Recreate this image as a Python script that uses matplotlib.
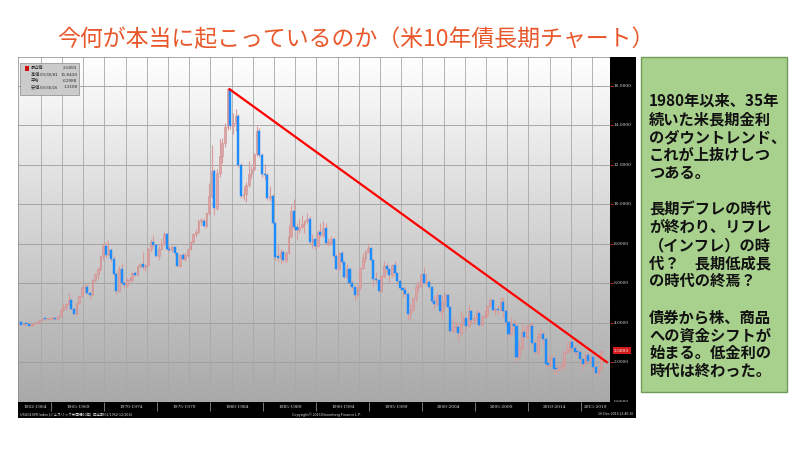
"""
US 10y yield quarterly candles (Bloomberg style) with trend line and comment box.
"""

import matplotlib
matplotlib.use("Agg")
import matplotlib.pyplot as plt
from matplotlib.patches import Rectangle
import numpy as np

plt.rcParams["font.family"] = ["Noto Sans CJK JP", "DejaVu Sans"]

# quarterly candles, 1962Q1 .. 2016Q4
first_year = 1962
first_open = 4.05
closes = [
    3.87, 3.95, 3.93, 3.85,   # 1962
    3.94, 4.00, 4.06, 4.14,
    4.21, 4.17, 4.19, 4.21,
    4.21, 4.20, 4.33, 4.65,
    4.82, 4.95, 5.16, 4.70,
    4.45, 5.00, 5.35, 5.75,
    5.80, 5.50, 5.38, 6.15,
    6.45, 6.70, 7.40, 7.88,
    7.45, 7.70, 7.25, 6.48,   # 1970
    5.60, 6.70, 6.00, 5.90,
    6.15, 6.15, 6.50, 6.40,
    6.85, 6.95, 6.80, 6.90,
    7.75, 8.10, 7.95, 7.40,
    7.75, 8.00, 8.50, 7.75,
    7.70, 7.85, 7.55, 6.85,
    7.45, 7.25, 7.45, 7.75,
    8.10, 8.50, 8.60, 9.15,
    9.15, 8.90, 9.55, 10.40,
    11.70, 9.80, 11.60, 12.45,  # 1980
    13.10, 13.90, 15.84, 13.95,
    14.10, 14.50, 12.00, 10.40,
    10.50, 11.00, 11.55, 11.80,
    12.55, 13.70, 12.50, 11.55,
    11.50, 10.30, 10.40, 9.05,
    7.35, 7.30, 7.60, 7.20,
    7.55, 8.40, 9.65, 8.85,
    8.70, 8.85, 9.00, 9.15,
    9.25, 8.10, 8.25, 7.90,
    8.60, 8.45, 8.80, 8.05,   # 1990
    8.05, 8.25, 7.40, 6.70,
    7.55, 7.10, 6.30, 6.70,
    6.00, 5.80, 5.40, 5.80,
    6.75, 7.30, 7.60, 7.80,
    7.20, 6.20, 6.15, 5.60,
    6.35, 6.85, 6.70, 6.40,
    6.90, 6.50, 6.10, 5.75,
    5.65, 5.45, 4.45, 4.65,
    5.25, 5.80, 5.90, 6.45,
    6.00, 6.05, 5.80, 5.10,   # 2000
    4.95, 5.40, 4.60, 5.05,
    5.40, 4.80, 3.60, 3.80,
    3.80, 3.50, 3.95, 4.25,
    3.85, 4.60, 4.15, 4.22,
    4.50, 3.90, 4.30, 4.40,
    4.85, 5.15, 4.65, 4.70,
    4.65, 5.05, 4.60, 4.05,
    3.45, 3.95, 3.85, 2.25,
    2.70, 3.55, 3.30, 3.85,
    3.85, 2.95, 2.50, 3.30,   # 2010
    3.45, 3.15, 1.92, 1.88,
    2.21, 1.65, 1.63, 1.76,
    1.85, 2.49, 2.61, 3.03,
    2.72, 2.53, 2.49, 2.17,
    1.92, 2.35, 2.04, 2.27,
    1.77, 1.47, 1.59, 2.59,
]
highs = [
    4.10, 3.98, 4.02, 3.97,
    3.96, 4.02, 4.09, 4.17,
    4.25, 4.26, 4.22, 4.24,
    4.24, 4.24, 4.35, 4.68,
    4.98, 4.98, 5.53, 5.25,
    4.78, 5.05, 5.42, 5.85,
    5.95, 5.98, 5.55, 6.20,
    6.50, 6.80, 7.45, 8.05,
    8.10, 8.20, 7.80, 7.40,
    6.55, 6.85, 7.05, 6.10,
    6.25, 6.30, 6.55, 6.60,
    6.90, 7.00, 7.60, 6.95,
    7.80, 8.25, 8.45, 8.00,
    7.95, 8.25, 8.60, 8.55,
    7.90, 7.95, 7.90, 7.60,
    7.50, 7.55, 7.55, 7.80,
    8.15, 8.55, 8.75, 9.25,
    9.30, 9.30, 9.60, 11.10,
    13.00, 11.80, 11.80, 13.30,
    13.35, 14.10, 15.84, 15.84,
    14.65, 14.85, 14.60, 12.10,
    10.95, 11.15, 12.20, 11.95,
    12.60, 13.95, 13.85, 12.60,
    12.05, 11.60, 10.95, 10.50,
    9.10, 7.95, 7.75, 7.70,
    7.65, 8.95, 9.95, 10.25,
    9.05, 9.25, 9.45, 9.20,
    9.55, 9.40, 8.50, 8.30,
    8.70, 9.05, 9.15, 9.05,
    8.30, 8.40, 8.35, 7.50,
    7.60, 7.65, 7.15, 6.95,
    6.75, 6.15, 5.85, 5.95,
    6.80, 7.55, 7.70, 8.05,
    7.85, 7.25, 6.55, 6.20,
    6.40, 7.15, 7.05, 6.75,
    6.95, 7.15, 6.55, 6.15,
    5.80, 5.80, 5.55, 5.00,
    5.30, 6.00, 6.10, 6.45,
    6.80, 6.50, 6.15, 5.85,
    5.35, 5.55, 5.45, 5.40,
    5.50, 5.45, 4.85, 4.25,
    4.10, 3.95, 4.60, 4.45,
    4.30, 4.90, 4.70, 4.40,
    4.65, 4.60, 4.40, 4.65,
    4.90, 5.25, 5.20, 4.80,
    4.90, 5.30, 5.30, 4.70,
    4.10, 4.30, 4.20, 4.10,
    3.05, 4.00, 3.90, 3.90,
    3.95, 4.00, 3.10, 3.55,
    3.75, 3.60, 3.20, 2.40,
    2.40, 2.30, 1.90, 1.85,
    2.08, 2.65, 3.00, 3.05,
    3.05, 2.80, 2.65, 2.60,
    2.25, 2.50, 2.50, 2.35,
    2.30, 1.95, 1.73, 2.64,
]
lows = [
    3.85, 3.82, 3.90, 3.80,
    3.82, 3.90, 3.98, 4.04,
    4.12, 4.15, 4.15, 4.16,
    4.18, 4.17, 4.18, 4.30,
    4.60, 4.65, 4.90, 4.62,
    4.40, 4.40, 4.95, 5.30,
    5.50, 5.45, 5.20, 5.35,
    6.05, 6.20, 6.60, 7.20,
    7.30, 7.40, 7.10, 6.40,
    5.45, 5.55, 5.95, 5.75,
    5.80, 6.05, 6.10, 6.35,
    6.38, 6.75, 6.70, 6.60,
    6.85, 7.60, 7.90, 7.35,
    7.20, 7.70, 7.95, 7.70,
    7.60, 7.60, 7.45, 6.80,
    6.80, 7.20, 7.15, 7.35,
    7.70, 8.05, 8.35, 8.55,
    8.95, 8.85, 8.80, 9.45,
    10.30, 9.45, 9.70, 11.40,
    12.10, 12.90, 13.75, 13.80,
    13.55, 13.70, 11.90, 10.30,
    10.20, 10.10, 10.90, 11.35,
    11.70, 12.45, 12.40, 11.40,
    11.25, 10.20, 10.15, 9.00,
    7.20, 7.10, 6.95, 7.10,
    7.05, 7.50, 8.30, 8.70,
    8.20, 8.55, 8.80, 8.55,
    9.05, 8.00, 7.80, 7.75,
    7.85, 8.35, 8.35, 7.95,
    7.90, 7.95, 7.35, 6.65,
    6.65, 7.00, 6.25, 6.25,
    5.85, 5.70, 5.15, 5.30,
    5.65, 6.70, 7.10, 7.55,
    7.15, 5.85, 6.05, 5.55,
    5.55, 6.25, 6.50, 6.05,
    6.30, 6.45, 6.00, 5.70,
    5.30, 5.40, 4.15, 4.15,
    4.60, 5.05, 5.60, 5.75,
    5.95, 5.90, 5.70, 5.05,
    4.70, 4.85, 4.50, 4.15,
    4.80, 4.75, 3.55, 3.55,
    3.55, 3.10, 3.35, 3.90,
    3.65, 3.80, 3.95, 3.95,
    4.00, 3.85, 3.85, 4.25,
    4.30, 4.80, 4.55, 4.40,
    4.45, 4.60, 4.30, 3.90,
    3.30, 3.40, 3.40, 2.05,
    2.15, 2.60, 3.20, 3.15,
    3.55, 2.90, 2.40, 2.35,
    3.20, 2.85, 1.70, 1.70,
    1.80, 1.45, 1.38, 1.55,
    1.70, 1.60, 2.45, 2.45,
    2.55, 2.40, 2.30, 1.86,
    1.64, 1.85, 1.90, 1.98,
    1.53, 1.40, 1.32, 1.59,
]

# downtrend line drawn on the chart
trend_x = [1981.8, 2017.4]
trend_y = [15.84, 2.0]

y_ticks = [0, 2, 4, 6, 8, 10, 12, 14, 16]
period_starts = [1962, 1965, 1970, 1975, 1980, 1985, 1990, 1995, 2000, 2005, 2010, 2015]
period_labels = ["1962-1964", "1965-1969", "1970-1974", "1975-1979", "1980-1984",
                 "1985-1989", "1990-1994", "1995-1999", "2000-2004", "2005-2009",
                 "2010-2014", "2015-2019"]
last_price = 2.5893
legend_rows = [("最近値", "2.5893"), ("高値 09/30/81", "15.8420"),
               ("平均", "6.2988"), ("安値 09/30/16", "1.3180")]

title = "今何が本当に起こっているのか（米10年債長期チャート）"
comment_paragraphs = [
    ["1980年以来、35年", "続いた米長期金利", "のダウントレンド、", "これが上抜けしつ", "つある。"],
    ["長期デフレの時代", "が終わり、リフレ", "（インフレ）の時", "代？　長期低成長", "の時代の終焉？"],
    ["債券から株、商品", "への資金シフトが", "始まる。低金利の", "時代は終わった。"],
]

W, H = 800, 450
X0 = 1961.85          # left edge of plot in years
PX_PER_YEAR = 10.6
UP_COLOR = "#dca4a4"
DOWN_COLOR = "#1c8cff"


def px_box(x0, y0, x1, y1):
    return [x0 / W, 1 - y1 / H, (x1 - x0) / W, (y1 - y0) / H]


def draw_candles(ax):
    n = len(closes)
    t = first_year + np.arange(n) * 0.25 + 0.125
    opens = np.array([first_open] + closes[:-1])
    c = np.array(closes)
    up = c >= opens
    ax.vlines(t, lows, highs, color="#d99a9a", linewidth=0.8, zorder=3)
    bottom = np.minimum(opens, c)
    height = np.maximum(np.abs(c - opens), 0.06)
    ax.bar(t[up], height[up], bottom=bottom[up], width=0.16,
           color=UP_COLOR, edgecolor="#d08e8e", linewidth=0.4, zorder=4)
    ax.bar(t[~up], height[~up], bottom=bottom[~up], width=0.2,
           color=DOWN_COLOR, edgecolor=DOWN_COLOR, linewidth=0.3, zorder=4)


def main():
    fig = plt.figure(figsize=(8, 4.5), dpi=100)
    fig.patch.set_facecolor("white")

    # main price area
    ax = fig.add_axes(px_box(18, 57, 610, 402))
    x1 = X0 + (610 - 18) / PX_PER_YEAR
    ylim = (-0.02, 345 / 19.75)
    ax.set_xlim(X0, x1)
    ax.set_ylim(*ylim)
    grad = np.linspace(0, 1, 256).reshape(-1, 1)
    ax.imshow(grad, extent=[X0, x1, ylim[0], ylim[1]], aspect="auto",
              cmap=matplotlib.colors.LinearSegmentedColormap.from_list("bg", ["#ffffff", "#a9a9a9"]),
              origin="upper", zorder=0)
    for v in y_ticks[1:]:
        ax.axhline(v, color="#9c9c9c", linewidth=0.6, zorder=1)
    for yr in range(1964, 2018, 2):
        ax.axvline(yr, color="#a8a8a8", linewidth=0.6, zorder=1)
    draw_candles(ax)
    ax.plot(trend_x, trend_y, color="#ff0000", linewidth=1.6, zorder=5)
    ax.set_xticks([])
    ax.set_yticks([])
    for s in ax.spines.values():
        s.set_color("#888888")
        s.set_linewidth(0.5)

    # right value panel
    ax_r = fig.add_axes(px_box(610, 57, 636, 402), facecolor="black")
    ax_r.set_ylim(*ylim)
    ax_r.set_xlim(0, 1)
    ax_r.set_xticks([])
    ax_r.set_yticks(y_ticks)
    ax_r.tick_params(axis="y", direction="in", left=True, labelleft=False,
                     color="#e03030", length=2, width=0.6)
    for s in ax_r.spines.values():
        s.set_visible(False)
    for v in y_ticks:
        ax_r.text(0.14, v, f"{v:.4f}", color="#d8d8d8", fontsize=3.2,
                  va="center", ha="left", family="DejaVu Serif")
    ax_r.text(0.45, last_price, f"{last_price:.4f}", color="white", fontsize=3.2,
              va="center", ha="center", family="DejaVu Serif",
              bbox=dict(facecolor="#d21a1a", edgecolor="none", pad=0.9))

    # bottom period strip
    ax_b = fig.add_axes(px_box(18, 402, 636, 418), facecolor="black")
    xb1 = X0 + (636 - 18) / PX_PER_YEAR
    ax_b.set_xlim(X0, xb1)
    ax_b.set_ylim(0, 1)
    ax_b.set_xticks([])
    ax_b.set_yticks([])
    for s in ax_b.spines.values():
        s.set_visible(False)
    for start, lab in zip(period_starts, period_labels):
        end = min(start + 5 if start != 1962 else 1965, x1)
        ax_b.text((start + end) / 2, 0.7, lab, color="#e0e0e0", fontsize=3.2,
                  ha="center", va="center", family="DejaVu Serif")
        if start > 1962:
            ax_b.vlines(start, 0.45, 1.0, color="#cfcfcf", linewidth=0.4)
    ax_b.text(0.004, 0.22, "USGG10YR Index (ジェネリック米国債10年)  四半期 01/1962-12/2016",
              transform=ax_b.transAxes, color="#e0e0e0", fontsize=2.6, va="center", ha="left")
    ax_b.text(0.5, 0.22, "Copyright© 2016 Bloomberg Finance L.P.", transform=ax_b.transAxes,
              color="#e0e0e0", fontsize=2.6, va="center", ha="center")
    ax_b.text(0.995, 0.22, "16-Dec-2016 12:40:16", transform=ax_b.transAxes,
              color="#e0e0e0", fontsize=2.6, va="center", ha="right")

    # small legend box top-left
    fig.patches.append(Rectangle((20 / W, 1 - 95 / H), 59 / W, 32 / H, transform=fig.transFigure,
                                 facecolor="#cbcbcb", edgecolor="#8a8a8a", linewidth=0.5, zorder=10))
    fig.patches.append(Rectangle((25 / W, 1 - 70.5 / H), 4 / W, 4.5 / H, transform=fig.transFigure,
                                 facecolor="#d01010", edgecolor="none", zorder=11))
    for i, (lab, val) in enumerate(legend_rows):
        yy = 1 - (68.3 + i * 6.2) / H
        fig.text(31 / W, yy, lab, fontsize=3.0, color="#202020", va="center", ha="left", zorder=12)
        fig.text(77.5 / W, yy, val, fontsize=3.0, color="#202020", va="center", ha="right",
                 family="DejaVu Serif", zorder=12)

    # title
    fig.text(356 / W, 1 - 40 / H, title, fontsize=16.5, color="#e9582b",
             ha="center", va="center")

    # green comment box
    fig.patches.append(Rectangle((641 / W, 1 - 392 / H), 146 / W, 335 / H, transform=fig.transFigure,
                                 facecolor="#a9d18e", edgecolor="#6f9a58", linewidth=1.0))
    line_step = 18
    y = 101
    for para in comment_paragraphs:
        for line in para:
            fig.text(649 / W, 1 - y / H, line, fontsize=11, fontweight="bold",
                     color="#111111", ha="left", va="center")
            y += line_step
        y += line_step

    fig.savefig("out.png", dpi=100)
    plt.close(fig)


if __name__ == "__main__":
    main()
